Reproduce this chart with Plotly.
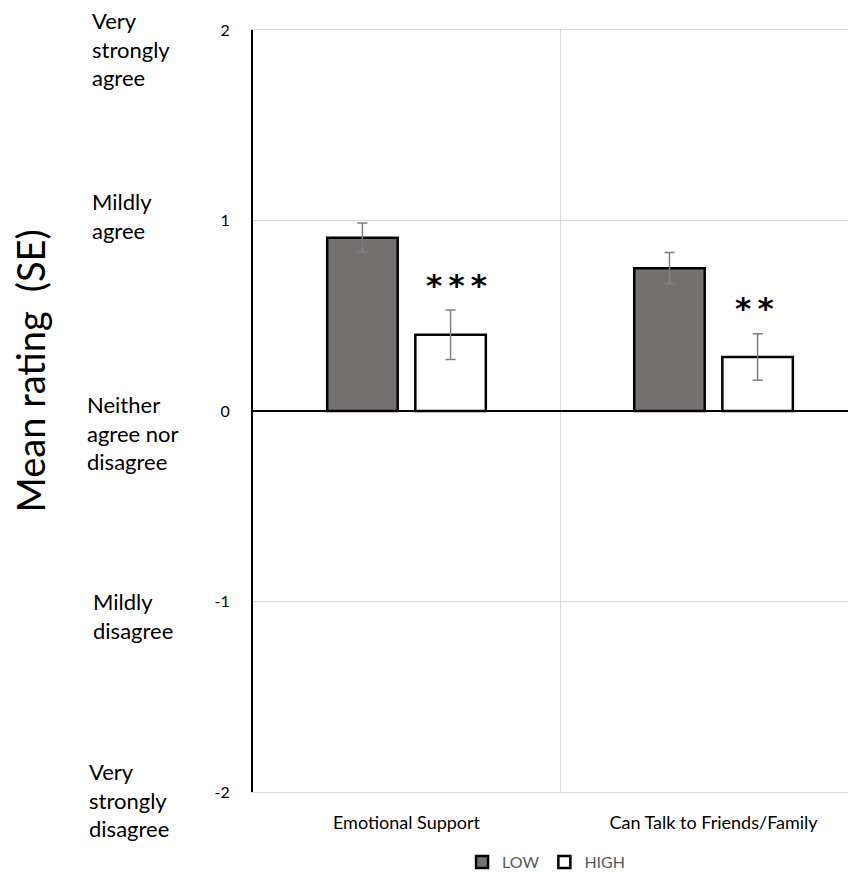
import plotly.graph_objects as go

categories = ["Emotional Support", "Can Talk to Friends/Family"]
low_means = [0.91, 0.75]
low_se = [0.077, 0.082]
high_means = [0.40, 0.283]
high_se = [0.13, 0.122]
stars = ["*\u2009*\u2009*", "*\u2009*"]
star_y = [0.66, 0.54]

ytick_vals = [-2, -1, 0, 1, 2]
ytick_text = ["-2", "-1", "0", "1", "2"]
side_labels = ["Very<br>strongly<br>agree", "Mildly<br>agree",
               "Neither<br>agree nor<br>disagree", "Mildly<br>disagree",
               "Very<br>strongly<br>disagree"]
side_label_level = [1.9, 1.025, -0.114, -1.077, -2.04]

FONT = "Lato"
Y_MIN, Y_MAX = -2, 2

fig = go.Figure()
fig.add_trace(go.Bar(
    name="LOW", x=categories, y=low_means,
    marker=dict(color="#767171", line=dict(color="black", width=2.5)),
    error_y=dict(type="data", array=low_se, color="#7f7f7f", thickness=1.5, width=5),
))
fig.add_trace(go.Bar(
    name="HIGH", x=categories, y=high_means,
    marker=dict(color="white", line=dict(color="black", width=2.5)),
    error_y=dict(type="data", array=high_se, color="#7f7f7f", thickness=1.5, width=5),
))

# significance stars over HIGH bars
star_shift = [50, 41]
for c, s, sy, sh in zip(categories, stars, star_y, star_shift):
    fig.add_annotation(x=c, y=sy, xref="x", yref="y", text=s, showarrow=False,
                       xshift=sh,
                       font=dict(family="DejaVu Sans", size=31, color="black", weight="bold"))

# verbal scale labels (paper coords so the bottom one is not hidden)
side_label_x = [-0.2708, -0.2708, -0.2786, -0.2692, -0.2748]
for t, lv, xx in zip(side_labels, side_label_level, side_label_x):
    fig.add_annotation(x=xx, y=(lv - Y_MIN) / (Y_MAX - Y_MIN), xref="paper", yref="paper",
                       text=t, showarrow=False,
                       xanchor="left", yanchor="middle", align="left",
                       font=dict(family=FONT, size=22, color="black"))

# y-axis title
fig.add_annotation(x=-0.3698, y=0.552, xref="paper", yref="paper",
                   text="Mean rating\u2002(SE)", textangle=-90, showarrow=False,
                   xanchor="center", yanchor="middle",
                   font=dict(family=FONT, size=38, color="black"))

fig.update_layout(
    width=848, height=880,
    margin=dict(l=245, r=0, t=22, b=96),
    paper_bgcolor="white", plot_bgcolor="white",
    barmode="group", bargap=0.426, bargroupgap=0.2,
    font=dict(family=FONT, size=16, color="black"),
    showlegend=True,
    legend=dict(orientation="h", x=0.486, xanchor="center", y=-0.092, yanchor="middle",
                font=dict(size=16, color="#595959"), itemwidth=30,
                traceorder="normal"),
    xaxis=dict(range=[-0.5, 1.464], tickson="boundaries", showgrid=True,
               gridcolor="#d9d9d9", gridwidth=1,
               showline=True, linecolor="#d9d9d9", linewidth=1, mirror=True,
               ticks="", ticklabelstandoff=14, tickfont=dict(size=18)),
    yaxis=dict(range=[Y_MIN, Y_MAX], tickvals=ytick_vals, ticktext=ytick_text,
               showgrid=True, gridcolor="#d9d9d9", gridwidth=1,
               zeroline=True, zerolinecolor="black", zerolinewidth=2,
               showline=True, linecolor="black", linewidth=2, ticks="",
               ticklabelstandoff=18, tickfont=dict(size=16)),
)
fig.write_html("out.html")
